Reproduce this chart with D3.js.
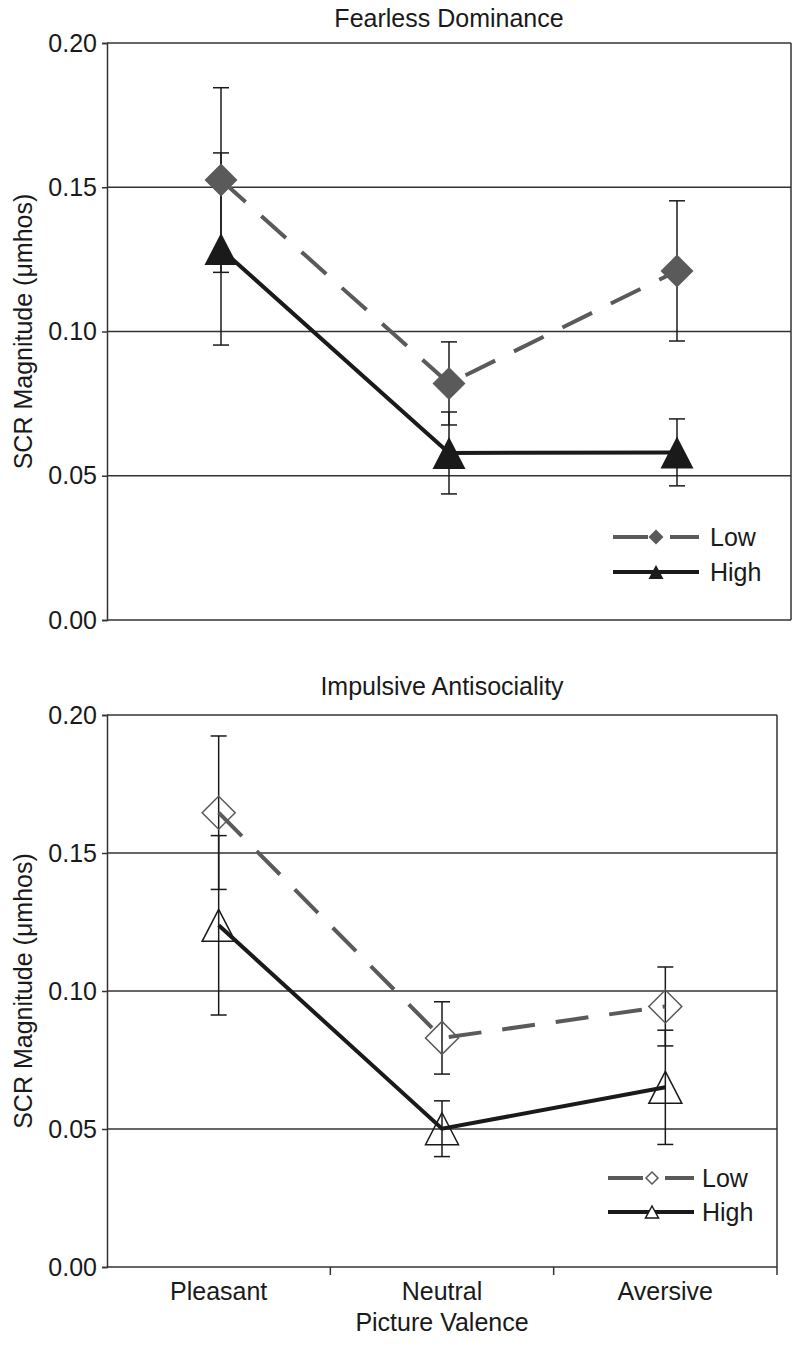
<!DOCTYPE html>
<html><head><meta charset="utf-8">
<script src="https://cdn.jsdelivr.net/npm/d3@7"></script>
<style>
body{margin:0;background:#fff}
svg{display:block}
text{font-family:"Liberation Sans",Arial,Helvetica,sans-serif;fill:#1a1a1a}
</style>
</head><body>
<svg id="c" width="800" height="1348"></svg>
<script>
// ---- data ----
const categories = ["Pleasant", "Neutral", "Aversive"];
const yTicks = [0, 0.05, 0.10, 0.15, 0.20];
const seriesNames = ["Low", "High"];
const panelTitles = ["Fearless Dominance", "Impulsive Antisociality"];
const yAxisTitle = "SCR Magnitude (\u03bcmhos)";
const xAxisTitle = "Picture Valence";

const fdLow      = [0.1525, 0.0820, 0.1210];
const fdLowErr   = [0.0320, 0.0144, 0.0243];
const fdHigh     = [0.1286, 0.0579, 0.0581];
const fdHighErr  = [0.0333, 0.0142, 0.0116];

const iaLow      = [0.1646, 0.0830, 0.0944];
const iaLowErr   = [0.0278, 0.0131, 0.0143];
const iaHigh     = [0.1238, 0.0501, 0.0651];
const iaHighErr  = [0.0325, 0.0101, 0.0207];

// ---- styling ----
const GRAY = "#5a5a5a", BLACK = "#1a1a1a", GRID = "#333";
const FS = 25;
const svg = d3.select("#c");

function triPath(w, h) {
  return `M0,${-h/2}L${w/2},${h/2}L${-w/2},${h/2}Z`;
}

const panels = [
  { left:107, right:791, top:43, bottom:620, title:panelTitles[0], titleY:27,
    low:fdLow, lowErr:fdLowErr, high:fdHigh, highErr:fdHighErr, filled:true,
    legend:{x1:613, x2:699, yLow:537, yHigh:572, mx:656, tx:710, dSize:112, tw:15, th:14},
    xAxis:false },
  { left:107, right:777, top:715, bottom:1267, title:panelTitles[1], titleY:695,
    low:iaLow, lowErr:iaLowErr, high:iaHigh, highErr:iaHighErr, filled:false,
    legend:{x1:608, x2:694, yLow:1178, yHigh:1212, mx:652, tx:702, dSize:72, tw:13, th:12},
    xAxis:true }
];

panels.forEach(p => {
  const g = svg.append("g");
  const x = d3.scaleBand().domain(categories).range([p.left, p.right]);
  const cx = c => x(c) + x.bandwidth()/2;
  const y = d3.scaleLinear().domain([0, 0.20]).range([p.bottom, p.top]);

  // gridlines
  g.selectAll("line.grid").data(yTicks.filter(t => t > 0)).join("line")
    .attr("x1", p.left).attr("x2", p.right)
    .attr("y1", d => y(d)).attr("y2", d => y(d))
    .attr("stroke", GRID).attr("stroke-width", 1.5);

  // y axis
  const ya = g.append("g").attr("transform", `translate(${p.left},0)`)
    .call(d3.axisLeft(y).tickValues(yTicks).tickFormat(d3.format(".2f")).tickSize(5).tickPadding(5));
  ya.select(".domain").attr("stroke", GRID).attr("stroke-width", 1.5);
  ya.selectAll(".tick line").attr("stroke", GRID).attr("stroke-width", 1.5);
  ya.selectAll(".tick text").attr("font-size", FS).attr("fill", BLACK)
    .attr("font-family", '"Liberation Sans",Arial,sans-serif');

  // x axis (bottom line) and right border
  const ext = p.xAxis ? 8 : 0;
  g.append("line").attr("x1", p.left).attr("x2", p.right)
    .attr("y1", y(0)).attr("y2", y(0)).attr("stroke", GRID).attr("stroke-width", 1.5);
  g.append("line").attr("x1", p.right).attr("x2", p.right)
    .attr("y1", y(0.20)).attr("y2", y(0) + ext).attr("stroke", GRID).attr("stroke-width", 1.5);

  if (p.xAxis) {
    g.selectAll("line.xt").data(categories.slice(1)).join("line")
      .attr("x1", d => x(d)).attr("x2", d => x(d))
      .attr("y1", y(0)).attr("y2", y(0) + ext)
      .attr("stroke", GRID).attr("stroke-width", 1.5);
    g.selectAll("text.xl").data(categories).join("text")
      .attr("x", d => cx(d)).attr("y", y(0) + 33)
      .attr("text-anchor", "middle").attr("font-size", FS).text(d => d);
    g.append("text").attr("x", (p.left + p.right)/2).attr("y", y(0) + 64)
      .attr("text-anchor", "middle").attr("font-size", FS).text(xAxisTitle);
  }

  // title
  g.append("text").attr("x", (p.left + p.right)/2).attr("y", p.titleY)
    .attr("text-anchor", "middle").attr("font-size", FS).text(p.title);

  // y axis title
  g.append("text")
    .attr("transform", `translate(32,${(p.top + p.bottom)/2}) rotate(-90)`)
    .attr("text-anchor", "middle").attr("font-size", FS).text(yAxisTitle);

  // error bars
  const series = [
    {vals:p.low, errs:p.lowErr},
    {vals:p.high, errs:p.highErr}
  ];
  series.forEach(s => {
    categories.forEach((c, i) => {
      const hi = y(s.vals[i] + s.errs[i]), lo = y(s.vals[i] - s.errs[i]);
      g.append("line").attr("x1", cx(c)).attr("x2", cx(c)).attr("y1", hi).attr("y2", lo)
        .attr("stroke", BLACK).attr("stroke-width", 1.5);
      [hi, lo].forEach(yy => g.append("line")
        .attr("x1", cx(c) - 8).attr("x2", cx(c) + 8).attr("y1", yy).attr("y2", yy)
        .attr("stroke", BLACK).attr("stroke-width", 1.5));
    });
  });

  // lines
  const line = d3.line().x((d, i) => cx(categories[i])).y(d => y(d));
  g.append("path").attr("d", line(p.low)).attr("fill", "none")
    .attr("stroke", GRAY).attr("stroke-width", 4).attr("stroke-dasharray", "33,21");
  g.append("path").attr("d", line(p.high)).attr("fill", "none")
    .attr("stroke", BLACK).attr("stroke-width", 4);

  // markers
  const diamond = d3.symbol(d3.symbolSquare, 545);
  g.selectAll("path.dm").data(p.low).join("path")
    .attr("d", diamond())
    .attr("transform", (d, i) => `translate(${cx(categories[i])},${y(d)}) rotate(45)`)
    .attr("fill", p.filled ? GRAY : "none")
    .attr("stroke", GRAY).attr("stroke-width", p.filled ? 0 : 1.5);
  g.selectAll("path.tr").data(p.high).join("path")
    .attr("d", triPath(33, 32))
    .attr("transform", (d, i) => `translate(${cx(categories[i])},${y(d)})`)
    .attr("fill", p.filled ? BLACK : "none")
    .attr("stroke", BLACK).attr("stroke-width", p.filled ? 0 : 1.5);

  // legend
  const L = p.legend;
  g.append("line").attr("x1", L.x1).attr("x2", L.x2).attr("y1", L.yLow).attr("y2", L.yLow)
    .attr("stroke", GRAY).attr("stroke-width", 4).attr("stroke-dasharray", "35,22");
  g.append("path").attr("d", d3.symbol(d3.symbolSquare, L.dSize)())
    .attr("transform", `translate(${L.mx},${L.yLow}) rotate(45)`)
    .attr("fill", p.filled ? GRAY : "#fff").attr("stroke", GRAY).attr("stroke-width", p.filled ? 0 : 1.5);
  g.append("line").attr("x1", L.x1).attr("x2", L.x2).attr("y1", L.yHigh).attr("y2", L.yHigh)
    .attr("stroke", BLACK).attr("stroke-width", 4);
  g.append("path").attr("d", triPath(L.tw, L.th))
    .attr("transform", `translate(${L.mx},${L.yHigh})`)
    .attr("fill", p.filled ? BLACK : "#fff").attr("stroke", BLACK).attr("stroke-width", p.filled ? 0 : 1.5);
  g.append("text").attr("x", L.tx).attr("y", L.yLow).attr("dy", "0.35em")
    .attr("font-size", FS).text(seriesNames[0]);
  g.append("text").attr("x", L.tx).attr("y", L.yHigh).attr("dy", "0.35em")
    .attr("font-size", FS).text(seriesNames[1]);
});
</script>
</body></html>
